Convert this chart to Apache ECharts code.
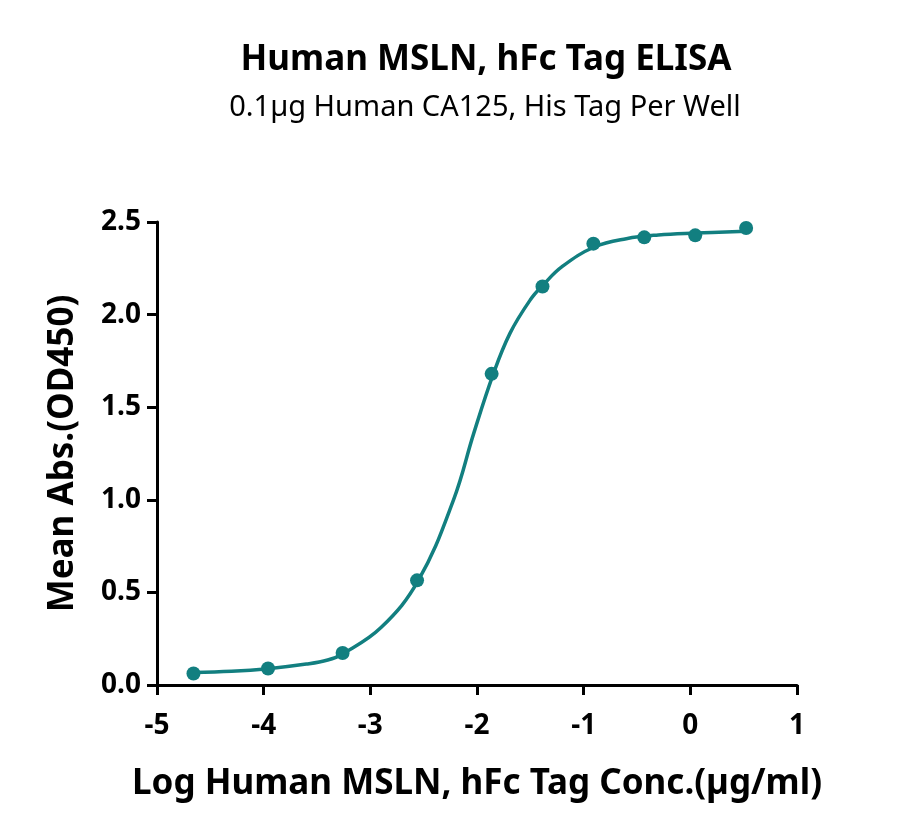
<!DOCTYPE html>
<html>
<head>
<meta charset="utf-8">
<script src="https://cdn.jsdelivr.net/npm/echarts@6/dist/echarts.min.js"></script>
<style>
html,body{margin:0;padding:0;background:#fff;}
#c{width:900px;height:839px;}
</style>
</head>
<body>
<div id="c"></div>
<script>
// Measured points: log10 concentration (µg/ml) vs mean OD450
const logConc = [-4.658, -3.959, -3.260, -2.562, -1.863, -1.386, -0.909, -0.432, 0.046, 0.523];
const meanAbs = [0.062, 0.089, 0.173, 0.565, 1.680, 2.152, 2.383, 2.417, 2.428, 2.468];

// Fitted curve
const curveX = [-4.658, -4.3, -3.96, -3.6, -3.4, -3.26, -2.9, -2.55, -2.22, -2.03, -1.85, -1.69, -1.5, -1.38, -1.2, -0.9, -0.6, -0.3, 0.05, 0.523];
const curveY = [0.068, 0.074, 0.088, 0.113, 0.135, 0.168, 0.31, 0.565, 1.0, 1.36, 1.675, 1.9, 2.08, 2.16, 2.26, 2.365, 2.41, 2.43, 2.44, 2.45];

const xTicks = [-5, -4, -3, -2, -1, 0, 1];
const yTicks = [0.0, 0.5, 1.0, 1.5, 2.0, 2.5];

const titleText = 'Human MSLN, hFc Tag ELISA';
const subText = '0.1µg Human CA125, His Tag Per Well';
const xName = 'Log Human MSLN, hFc Tag Conc.(µg/ml)';
const yName = 'Mean Abs.(OD450)';

const color = '#127f80';
const font = '"Source Sans Pro", "Noto Sans", "Open Sans", sans-serif';

const chart = echarts.init(document.getElementById('c'));
chart.setOption({
  backgroundColor: '#fff',
  animation: false,
  title: [
    {text: titleText, left: 481, top: 38, textAlign: 'center',
     textStyle: {fontFamily: font, fontWeight: 'bold', fontSize: 35, color: '#000'}},
    {text: subText, left: 480, top: 88, textAlign: 'center',
     textStyle: {fontFamily: font, fontWeight: 'normal', fontSize: 29, color: '#000'}}
  ],
  grid: {left: 157, right: 103, top: 222, bottom: 154, containLabel: false},
  xAxis: {
    type: 'value', min: xTicks[0], max: xTicks[xTicks.length-1], interval: 1,
    name: xName, nameLocation: 'middle', nameGap: 82,
    nameTextStyle: {fontFamily: font, fontWeight: 'bold', fontSize: 35, color: '#000'},
    axisLine: {show: true, onZero: false, lineStyle: {color: '#000', width: 3}},
    axisTick: {show: true, length: 10, lineStyle: {color: '#000', width: 3}},
    axisLabel: {fontFamily: font, fontWeight: 'bold', fontSize: 28, color: '#000', margin: 27,
      formatter: v => String(v)},
    splitLine: {show: false}
  },
  yAxis: {
    type: 'value', min: 0, max: 2.5, interval: 0.5,
    name: yName, nameLocation: 'middle', nameGap: 76, nameRotate: 90,
    nameTextStyle: {fontFamily: font, fontWeight: 'bold', fontSize: 35, color: '#000'},
    axisLine: {show: true, onZero: false, lineStyle: {color: '#000', width: 3}},
    axisTick: {show: true, length: 10, lineStyle: {color: '#000', width: 3}},
    axisLabel: {fontFamily: font, fontWeight: 'bold', fontSize: 28, color: '#000', margin: 16,
      formatter: v => v.toFixed(1)},
    splitLine: {show: false}
  },
  series: [
    {type: 'line', data: curveX.map((x, i) => [x, curveY[i]]), smooth: 0.4,
     showSymbol: false, symbol: 'none', lineStyle: {color: color, width: 3.5}, z: 2},
    {type: 'scatter', data: logConc.map((x, i) => [x, meanAbs[i]]), symbol: 'circle',
     symbolSize: 14, itemStyle: {color: color, opacity: 1}, z: 3}
  ]
});
</script>
</body>
</html>
